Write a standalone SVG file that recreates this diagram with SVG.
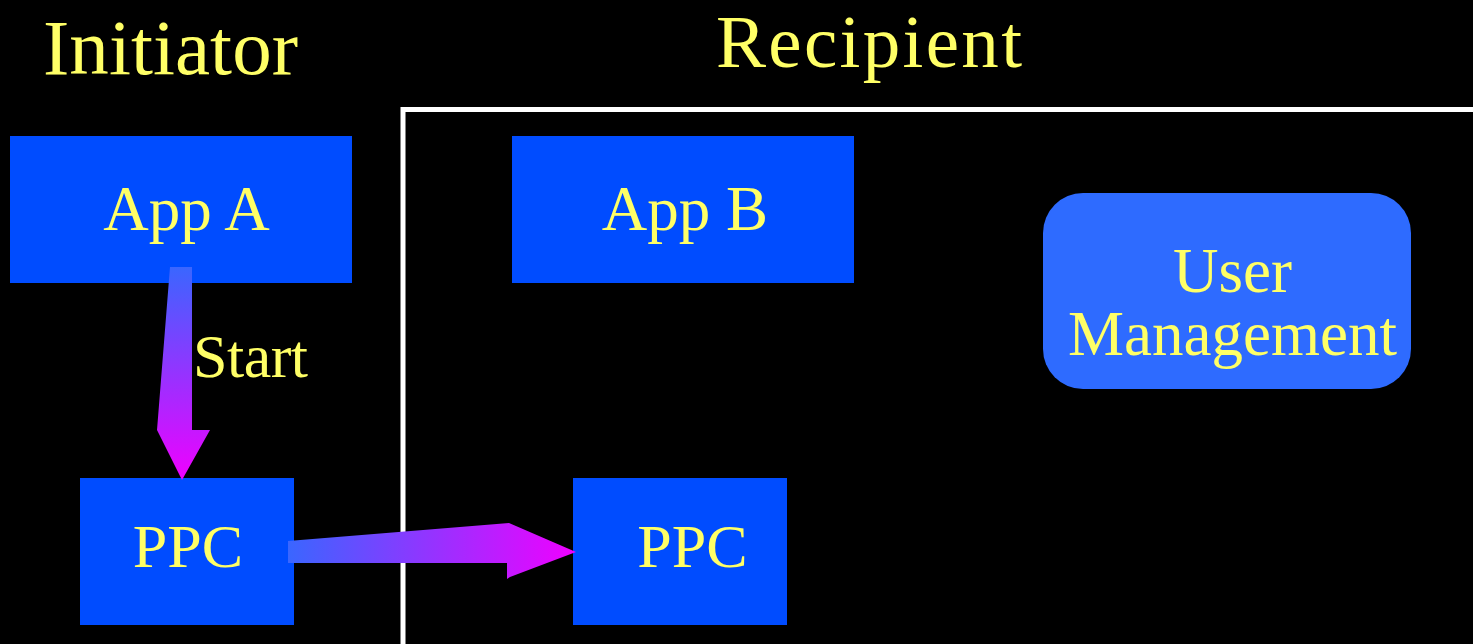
<svg xmlns="http://www.w3.org/2000/svg" width="1473" height="644" viewBox="0 0 1473 644">
<defs>
<linearGradient id="gv" x1="0" y1="0" x2="0" y2="1">
<stop offset="0" stop-color="#3a66ff"/>
<stop offset="1" stop-color="#f000ff"/>
</linearGradient>
<linearGradient id="gh" x1="0" y1="0" x2="1" y2="0">
<stop offset="0" stop-color="#3a66ff"/>
<stop offset="1" stop-color="#f000ff"/>
</linearGradient>
</defs>
<style>
.box{fill:#004cff}
.t{font-family:"Liberation Serif","Times New Roman",serif;fill:#ffff66}
</style>
<rect x="0" y="0" width="1473" height="644" fill="#000"/>
<rect x="403" y="109.5" width="1080" height="560" fill="none" stroke="#fff" stroke-width="5"/>
<text class="t" x="43" y="74" font-size="79" textLength="255">Initiator</text>
<text class="t" x="716" y="67" font-size="75" textLength="306">Recipient</text>
<g id="appA">
<rect class="box" x="10" y="136" width="342" height="147"/>
<text class="t" x="186.5" y="230" font-size="63" text-anchor="middle">App A</text>
</g>
<g id="appB">
<rect class="box" x="512" y="136" width="342" height="147"/>
<text class="t" x="685" y="230" font-size="63" text-anchor="middle">App B</text>
</g>
<g id="ppcA">
<rect class="box" x="80" y="478" width="214" height="147"/>
<text class="t" x="188" y="567" font-size="62" text-anchor="middle">PPC</text>
</g>
<g id="ppcB">
<rect class="box" x="573" y="478" width="214" height="147"/>
<text class="t" x="692.5" y="567" font-size="62" text-anchor="middle">PPC</text>
</g>
<g id="userMgmt">
<rect x="1043" y="193" width="368" height="196" rx="40" fill="#2e6bff"/>
<text class="t" x="1232.5" y="291.5" font-size="63" text-anchor="middle">User</text>
<text class="t" x="1232.5" y="355" font-size="63" text-anchor="middle">Management</text>
</g>
<g id="connectors">
<polygon points="170,267 192,267 192,430 210,430 182,480 157,430" fill="url(#gv)"/>
<polygon points="288,541 509,523 576,552 510,577 507,579 507,563 288,563" fill="url(#gh)"/>
<text class="t" x="193" y="377" font-size="62" textLength="115">Start</text>
</g>
</svg>
